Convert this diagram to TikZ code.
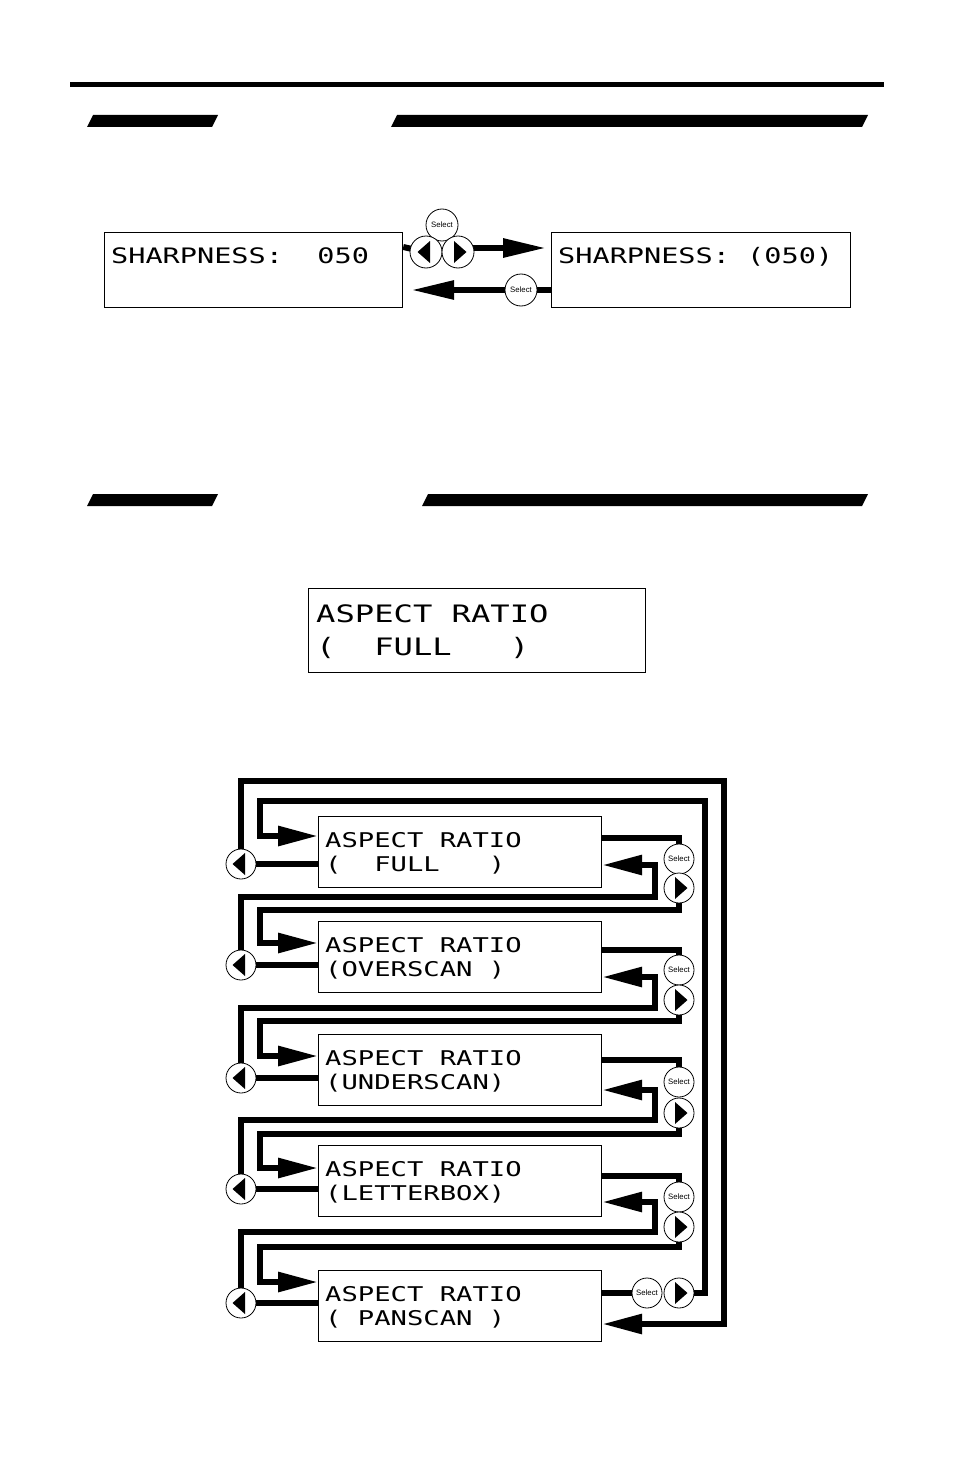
\documentclass[tikz,border=0pt]{standalone}
\usepackage{fontspec}
\setmainfont{Liberation Sans}
\newfontfamily\lcdfont[FakeStretch=1.34]{DejaVu Sans Mono}
\usetikzlibrary{arrows.meta}
\pgfdeclarelayer{background}
\pgfsetlayers{background,main}
\begin{document}
\begin{tikzpicture}[x=1pt,y=-1pt,
  wire/.style={line width=6pt, line join=miter},
  arr/.style={wire, -{Triangle[length=40pt,width=19pt]}},
  arrtop/.style={wire, -{Triangle[length=43pt,width=18pt]}},
  panel/.style={draw, line width=1.2pt, anchor=north west, inner sep=0pt},
  lcdtxt/.style={anchor=base west, inner sep=0pt},
  lcdmid/.style={font=\lcdfont\fontsize{21.3}{24}\selectfont},
  lcdbig/.style={font=\lcdfont\fontsize{24}{28}\selectfont},
  lcdsmall/.style={font=\lcdfont\fontsize{20.3}{24}\selectfont},
  btn/.style={circle, draw, line width=0.8pt, fill=white, inner sep=0pt, minimum size=30pt},
  leftbtn/.style={btn, path picture={\fill[black] ([xshift=-8.5pt]path picture bounding box.center) -- ++(12.5pt,11pt) -- ++(0pt,-22pt) -- cycle;}},
  rightbtn/.style={btn, path picture={\fill[black] ([xshift=8.5pt]path picture bounding box.center) -- ++(-12.5pt,11pt) -- ++(0pt,-22pt) -- cycle;}},
  selbtn/.style={btn, font=\fontsize{7.8}{8}\selectfont},
  bar/.style={fill=black}
]
\useasboundingbox (0,0) rectangle (954,1474);

% header rules and bars
\fill[bar] (70,82) rectangle (884,87);
\fill[bar] (87,127) -- (93,115) -- (218,115) -- (212,127) -- cycle;
\fill[bar] (391,127) -- (397,115) -- (868,115) -- (862,127) -- cycle;
\fill[bar] (87,506) -- (93,494) -- (218,494) -- (212,506) -- cycle;
\fill[bar] (422,506) -- (428,494) -- (868,494) -- (862,506) -- cycle;

% ---------- sharpness ----------
\node[panel, minimum width=298pt, minimum height=75pt] (shA) at (104,232) {};
\node[panel, minimum width=299pt, minimum height=75pt] (shB) at (551,232) {};
\node[lcdtxt, lcdmid] (shAt) at (111,263) {SHARPNESS:~~050};
\node[lcdtxt, lcdmid] (shBt) at (558,263) {SHARPNESS:~(050)};
\node[selbtn, minimum size=32pt] (tS) at (442,225) {Select};
\node[leftbtn, minimum size=32pt] (tL) at (426,252) {};
\node[rightbtn, minimum size=32pt] (tR) at (458,252) {};
\node[selbtn, minimum size=32pt] (bS) at (521,290) {Select};
\begin{pgfonlayer}{background}
\draw[wire] (shA.east |- 0,247) -- (tL.center);
\draw[arrtop, shorten >=5pt] (tR.center |- 0,248) -- (shB.west |- 0,248);
\draw[arrtop, shorten >=8pt] (shB.west |- bS) -- (shA.east |- bS);
\end{pgfonlayer}

% ---------- aspect ratio display ----------
\node[panel, minimum width=337pt, minimum height=84pt] (ar) at (308,588) {};
\node[lcdtxt, lcdbig] (art1) at (316,622) {ASPECT~RATIO};
\node[lcdtxt, lcdbig] (art2) at (316,655) {(~~FULL~~~)};

% ---------- menu loop ----------
\node[panel, minimum width=283pt, minimum height=71pt] (b1) at (318,816) {};
\node[panel, minimum width=283pt, minimum height=71pt] (b2) at (318,921) {};
\node[panel, minimum width=283pt, minimum height=71pt] (b3) at (318,1034) {};
\node[panel, minimum width=283pt, minimum height=71pt] (b4) at (318,1145) {};
\node[panel, minimum width=283pt, minimum height=71pt] (b5) at (318,1270) {};

\node[lcdtxt, lcdsmall] (b1t1) at (325,847) {ASPECT~RATIO};
\node[lcdtxt, lcdsmall] (b1t2) at (325,871) {(~~FULL~~~)};
\node[lcdtxt, lcdsmall] (b2t1) at (325,952) {ASPECT~RATIO};
\node[lcdtxt, lcdsmall] (b2t2) at (325,976) {(OVERSCAN~)};
\node[lcdtxt, lcdsmall] (b3t1) at (325,1065) {ASPECT~RATIO};
\node[lcdtxt, lcdsmall] (b3t2) at (325,1089) {(UNDERSCAN)};
\node[lcdtxt, lcdsmall] (b4t1) at (325,1176) {ASPECT~RATIO};
\node[lcdtxt, lcdsmall] (b4t2) at (325,1200) {(LETTERBOX)};
\node[lcdtxt, lcdsmall] (b5t1) at (325,1301) {ASPECT~RATIO};
\node[lcdtxt, lcdsmall] (b5t2) at (325,1325) {(~PANSCAN~)};

\node[leftbtn] (L1) at (241,864) {};
\node[leftbtn] (L2) at (241,965) {};
\node[leftbtn] (L3) at (241,1078) {};
\node[leftbtn] (L4) at (241,1189) {};
\node[leftbtn] (L5) at (241,1303) {};

\node[selbtn] (S1) at (679,859) {Select};
\node[selbtn] (S2) at (679,970) {Select};
\node[selbtn] (S3) at (679,1082) {Select};
\node[selbtn] (S4) at (679,1197) {Select};
\node[selbtn] (S5) at (647,1293) {Select};

\node[rightbtn] (R1) at (679,888) {};
\node[rightbtn] (R2) at (679,1000) {};
\node[rightbtn] (R3) at (679,1113) {};
\node[rightbtn] (R4) at (679,1227) {};
\node[rightbtn] (R5) at (679,1293) {};

\begin{pgfonlayer}{background}
% box -> left button
\draw[wire] (b1.west |- L1) -- (L1.center);
\draw[wire] (b2.west |- L2) -- (L2.center);
\draw[wire] (b3.west |- L3) -- (L3.center);
\draw[wire] (b4.west |- L4) -- (L4.center);
\draw[wire] (b5.west |- L5) -- (L5.center);
% box -> select
\draw[wire] (b1.east |- 0,838) -| (S1.center);
\draw[wire] (b2.east |- 0,950) -| (S2.center);
\draw[wire] (b3.east |- 0,1060) -| (S3.center);
\draw[wire] (b4.east |- 0,1176) -| (S4.center);
\draw[wire] (b5.east |- S5) -- (S5.center);
% right button -> next box
\draw[arr] (R1.center) |- (260,910) |- (b2.west |- 0,943);
\draw[arr] (R2.center) |- (260,1021) |- (b3.west |- 0,1056);
\draw[arr] (R3.center) |- (260,1134) |- (b4.west |- 0,1168);
\draw[arr] (R4.center) |- (260,1247) |- (b5.west |- 0,1282);
% left button -> previous box
\draw[arr] (L2.center) |- (655,897) |- (b1.east |- 0,865);
\draw[arr] (L3.center) |- (655,1008) |- (b2.east |- 0,977);
\draw[arr] (L4.center) |- (655,1120) |- (b3.east |- 0,1090);
\draw[arr] (L5.center) |- (655,1232) |- (b4.east |- 0,1202);
% wrap-around
\draw[arr] (L1.center) |- (724,781) |- (b5.east |- 0,1324);
\draw[arr] (R5.center) -| (705,801) -| (260,836) -- (b1.west |- 0,836);
\end{pgfonlayer}
\end{tikzpicture}
\end{document}
